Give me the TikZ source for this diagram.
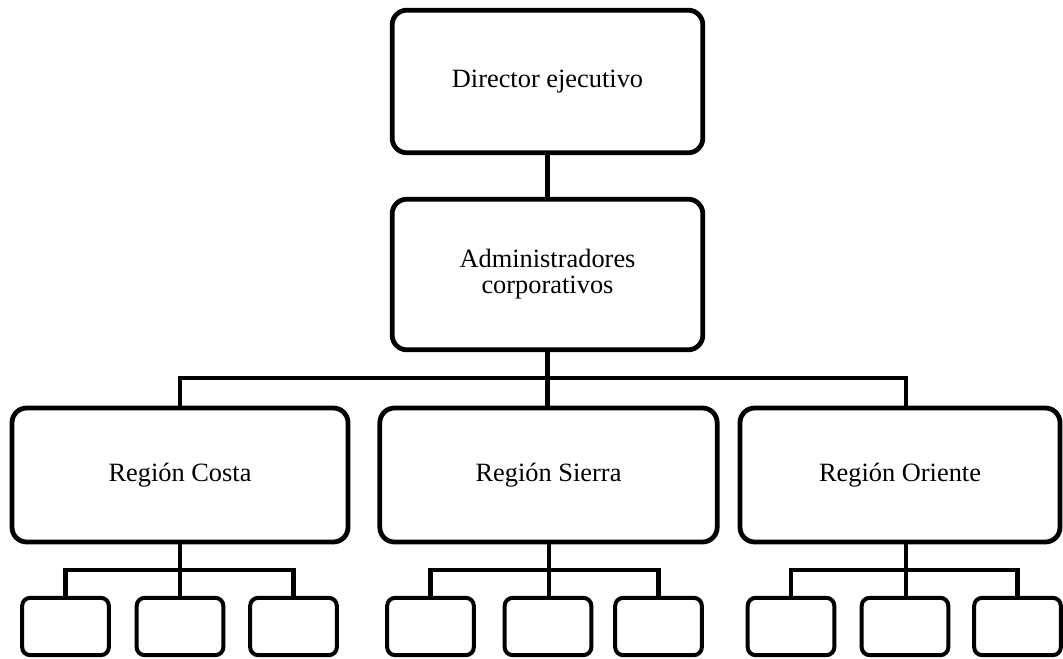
\documentclass[tikz,border=0pt]{standalone}
\usepackage{fontspec}
\setmainfont{Liberation Serif}
\usepackage{tikz}
\usetikzlibrary{positioning}

\begin{document}
\begin{tikzpicture}[x=0.75pt,y=-0.75pt,
  font=\fontsize{19.8}{19.5}\selectfont,
  unit/.style={draw,line width=3.6pt,rounded corners=11pt,align=center,inner sep=0pt},
  big/.style={unit,minimum width=233pt,minimum height=107pt},
  region/.style={unit,minimum height=100.5pt},
  sub/.style={draw,line width=3pt,rounded corners=6pt,minimum width=65pt,minimum height=43pt,inner sep=0pt},
  link/.style={line width=3.4pt}]
  \useasboundingbox (0,0) rectangle (1063,659);
  % top levels
  \node[big] (dir) at (547.5,81.5) {Director ejecutivo};
  \node[big,minimum height=113pt] (adm) at (547.5,274.5) {Administradores\\corporativos};
  % regions
  \node[region,minimum width=252pt] (costa) at (180,475) {Región Costa};
  \node[region,minimum width=253pt] (sierra) at (548.5,475) {Región Sierra};
  \node[region,minimum width=240pt] (oriente) at (900,475) {Región Oriente};
  % units under each region
  \node[sub] (c1) at (65.5,626.5) {};
  \node[sub] (c2) at (180,626.5) {};
  \node[sub] (c3) at (293.5,626.5) {};
  \node[sub] (s1) at (430.5,626.5) {};
  \node[sub] (s2) at (548,626.5) {};
  \node[sub] (s3) at (658.5,626.5) {};
  \node[sub] (o1) at (791,626.5) {};
  \node[sub] (o2) at (905,626.5) {};
  \node[sub] (o3) at (1017.5,626.5) {};
  % bus points
  \coordinate (bus) at (547.5,378);
  \coordinate (oritop) at (906,408);
  \coordinate (cbus) at (180,570);
  \coordinate (sbus) at (549,570);
  \coordinate (obus) at (906,570);
  % connectors
  \draw[link] (dir.south) -- (adm.north);
  \draw[link] (adm.south) -- (bus);
  \draw[link] (costa.north) |- (bus) -| (oritop);
  \draw[link] (bus) -- (bus |- sierra.north);
  \draw[link] (costa.south) -- (cbus);
  \draw[link] (c1.north) |- (cbus) -| (c3.north);
  \draw[link] (cbus) -- (cbus |- c2.north);
  \draw[link] (sierra.south -| sbus) -- (sbus);
  \draw[link] (s1.north) |- (sbus) -| (s3.north);
  \draw[link] (sbus) -- (sbus |- s2.north);
  \draw[link] (oriente.south -| obus) -- (obus);
  \draw[link] (o1.north) |- (obus) -| (o3.north);
  \draw[link] (obus) -- (obus |- o2.north);
\end{tikzpicture}
\end{document}
